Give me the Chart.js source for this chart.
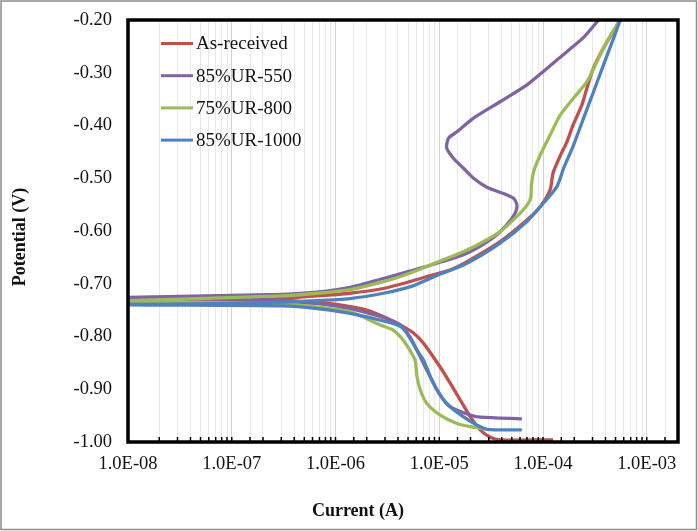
<!DOCTYPE html>
<html>
<head>
<meta charset="utf-8">
<script src="https://cdn.jsdelivr.net/npm/chart.js@4.4.1/dist/chart.umd.min.js"></script>
<style>
  html, body { margin: 0; padding: 0; background: #fff; }
  #wrap { width: 698px; height: 531px; position: relative; }
</style>
</head>
<body>
<div id="wrap"><canvas id="c" width="698" height="531"></canvas></div>
<script>
// ---- Data (current in A, potential in V) ----
const seriesNames = ["As-received", "85%UR-550", "75%UR-800", "85%UR-1000"];
const seriesColors = ["#C0504D", "#8064A2", "#9BBB59", "#4F81BD"];

const asReceivedI = [1.25e-4, 3.86e-5, 3.1e-5, 2.48e-5, 1.99e-5, 1.59e-5, 1.27e-5, 1.06e-5, 8.7e-6, 7.0e-6, 5.6e-6, 4.2e-6, 3.1e-6, 2.0e-6, 1.1e-6, 6.6e-7, 1.5e-7, 1e-8,
                     1e-8, 1.5e-7, 6.6e-7, 1.38e-6, 2.88e-6, 5.2e-6, 8.7e-6, 1.27e-5, 1.85e-5, 3.86e-5, 7.0e-5, 9.4e-5, 1.17e-4, 1.25e-4, 1.46e-4, 1.70e-4, 1.95e-4, 2.37e-4, 2.65e-4, 3.05e-4, 3.8e-4, 4.75e-4, 5.55e-4];
const asReceivedE = [-0.996, -0.996, -0.991, -0.977, -0.952, -0.920, -0.888, -0.863, -0.838, -0.812, -0.793, -0.778, -0.765, -0.750, -0.740, -0.737, -0.735, -0.734,
                     -0.733, -0.731, -0.723, -0.718, -0.709, -0.696, -0.683, -0.674, -0.658, -0.620, -0.579, -0.554, -0.522, -0.490, -0.458, -0.431, -0.399, -0.361, -0.329, -0.292, -0.254, -0.222, -0.200];

const ur550I = [6.25e-5, 2.48e-5, 1.85e-5, 1.27e-5, 1.10e-5, 9.5e-6, 8.2e-6, 7.05e-6, 6.1e-6, 4.88e-6, 4.2e-6, 3.36e-6, 2.7e-6, 1.38e-6, 6.6e-7, 3.1e-7, 1e-8,
                1e-8, 3.1e-7, 6.6e-7, 1.38e-6, 2.9e-6, 5.2e-6, 8.8e-6, 1.85e-5, 3.34e-5, 4.49e-5, 5.4e-5, 5.6e-5, 5.2e-5, 4.16e-5, 2.88e-5, 2.14e-5, 1.71e-5, 1.37e-5, 1.18e-5, 1.23e-5, 1.48e-5, 2.14e-5, 3.86e-5, 7.0e-5, 1.09e-4, 1.70e-4, 2.46e-4, 3.43e-4];
const ur550E = [-0.956, -0.953, -0.947, -0.933, -0.920, -0.901, -0.877, -0.851, -0.826, -0.794, -0.778, -0.769, -0.762, -0.747, -0.737, -0.731, -0.727,
                -0.726, -0.720, -0.716, -0.707, -0.690, -0.676, -0.663, -0.642, -0.612, -0.588, -0.566, -0.551, -0.538, -0.529, -0.517, -0.500, -0.481, -0.462, -0.443, -0.424, -0.412, -0.386, -0.355, -0.323, -0.292, -0.260, -0.233, -0.200];

const ur800I = [2.77e-5, 1.99e-5, 1.48e-5, 1.02e-5, 7.6e-6, 6.55e-6, 6.1e-6, 5.86e-6, 5.2e-6, 4.5e-6, 3.6e-6, 2.7e-6, 1.38e-6, 6.6e-7, 3.1e-7, 1e-8,
                1e-8, 3.1e-7, 6.6e-7, 1.38e-6, 2.9e-6, 5.2e-6, 8.8e-6, 1.85e-5, 3.86e-5, 6.03e-5, 7.24e-5, 7.64e-5, 7.74e-5, 8.1e-5, 9.4e-5, 1.17e-4, 1.47e-4, 1.97e-4, 2.65e-4, 3.31e-4, 4.13e-4, 5.16e-4, 5.55e-4];
const ur800E = [-0.975, -0.971, -0.965, -0.949, -0.927, -0.901, -0.876, -0.845, -0.826, -0.807, -0.788, -0.778, -0.753, -0.744, -0.738, -0.733,
                -0.732, -0.723, -0.718, -0.711, -0.696, -0.680, -0.662, -0.636, -0.601, -0.566, -0.547, -0.535, -0.513, -0.488, -0.456, -0.418, -0.380, -0.348, -0.317, -0.279, -0.241, -0.209, -0.200];

const ur1000I = [6.25e-5, 2.88e-5, 2.31e-5, 1.70e-5, 1.18e-5, 9.5e-6, 8.2e-6, 7.05e-6, 6.1e-6, 5.2e-6, 4.2e-6, 3.1e-6, 1.38e-6, 6.6e-7, 3.1e-7, 1e-8,
                 1e-8, 1.5e-7, 6.6e-7, 1.38e-6, 2.9e-6, 5.2e-6, 8.8e-6, 1.85e-5, 3.86e-5, 7.0e-5, 1.01e-4, 1.36e-4, 1.58e-4, 1.97e-4, 2.46e-4, 3.07e-4, 3.83e-4, 4.78e-4, 5.55e-4];
const ur1000E = [-0.977, -0.976, -0.968, -0.952, -0.927, -0.901, -0.876, -0.845, -0.826, -0.800, -0.781, -0.772, -0.756, -0.747, -0.742, -0.740,
                 -0.739, -0.737, -0.732, -0.728, -0.718, -0.706, -0.687, -0.661, -0.623, -0.582, -0.547, -0.516, -0.481, -0.437, -0.386, -0.336, -0.285, -0.235, -0.200];

const yTickValues = [-1.0, -0.9, -0.8, -0.7, -0.6, -0.5, -0.4, -0.3, -0.2];
const xAxisMin = 1e-8, xAxisMax = 2e-3;
const xTitle = "Current (A)";
const yTitle = "Potential (V)";

// ---- Build datasets ----
const allI = [asReceivedI, ur550I, ur800I, ur1000I];
const allE = [asReceivedE, ur550E, ur800E, ur1000E];
const datasets = seriesNames.map((name, k) => ({
  label: name,
  data: allI[k].map((v, i) => ({ x: v, y: allE[k][i] })),
  borderColor: seriesColors[k],
  backgroundColor: seriesColors[k],
  borderWidth: 3.3,
  showLine: true,
  pointRadius: 0,
  tension: 0.25,
  order: 3 - k
}));

const SERIF = "'Liberation Serif', 'Times New Roman', serif";

function isDecade(v) {
  const e = Math.round(Math.log10(v));
  return Math.abs(v / Math.pow(10, e) - 1) < 1e-6;
}
function fmtSci(v) {
  const e = Math.round(Math.log10(v));
  return "1.0E" + (e < 0 ? "-" : "+") + String(Math.abs(e)).padStart(2, "0");
}

const decorPlugin = {
  id: "decor",
  beforeDraw(chart) {
    const ctx = chart.ctx;
    ctx.save();
    ctx.fillStyle = "#fff";
    ctx.fillRect(0, 0, chart.width, chart.height);
    ctx.restore();
  },
  afterDraw(chart) {
    const ctx = chart.ctx;
    const a = chart.chartArea;
    const xs = chart.scales.x;
    ctx.save();
    // inner tick marks on the bottom axis
    ctx.strokeStyle = "#000";
    ctx.lineWidth = 1.5;
    xs.ticks.forEach(t => {
      const px = xs.getPixelForValue(t.value);
      if (px <= a.left + 1 || px >= a.right - 1) return;
      ctx.beginPath();
      ctx.moveTo(px, a.bottom);
      ctx.lineTo(px, a.bottom - 5);
      ctx.stroke();
    });
    // plot border
    ctx.lineWidth = 3.5;
    ctx.strokeRect(a.left, a.top, a.right - a.left, a.bottom - a.top);
    // legend inside the plot
    ctx.font = "19px " + SERIF;
    ctx.textBaseline = "middle";
    ctx.textAlign = "left";
    seriesNames.forEach((n, i) => {
      const y = 43.5 + i * 32.2;
      ctx.strokeStyle = seriesColors[i];
      ctx.lineWidth = 3;
      ctx.beginPath();
      ctx.moveTo(161, y);
      ctx.lineTo(193, y);
      ctx.stroke();
      ctx.fillStyle = "#111";
      ctx.fillText(n, 196, y + 1);
    });
    // axis titles
    ctx.font = "bold 18px " + SERIF;
    ctx.fillStyle = "#111";
    ctx.textAlign = "center";
    ctx.fillText(xTitle, 358, 511);
    ctx.translate(20, 237);
    ctx.rotate(-Math.PI / 2);
    ctx.fillText(yTitle, 0, 0);
    ctx.restore();
    // outer frame
    ctx.save();
    ctx.strokeStyle = "#8c8c8c";
    ctx.lineWidth = 1.5;
    ctx.strokeRect(1, 1, 695.5, 528.5);
    ctx.restore();
  }
};

new Chart(document.getElementById("c"), {
  type: "scatter",
  data: { datasets },
  options: {
    responsive: false,
    animation: false,
    devicePixelRatio: 1,
    layout: { padding: { left: 0, right: 20, top: 20, bottom: 0 } },
    plugins: { legend: { display: false }, tooltip: { enabled: false }, title: { display: false } },
    scales: {
      x: {
        type: "logarithmic",
        min: xAxisMin,
        max: xAxisMax,
        border: { display: false },
        grid: {
          drawTicks: false,
          color: ctx => (ctx.tick && isDecade(ctx.tick.value)) ? "#d2d2d2" : "#e8e8e8",
          lineWidth: 1
        },
        ticks: {
          autoSkip: false,
          maxRotation: 0,
          padding: 11,
          color: "#111",
          font: { family: SERIF, size: 18.5 },
          callback: v => isDecade(v) ? fmtSci(v) : ""
        },
        afterFit: s => { s.height = 89; s.paddingLeft = 0; s.paddingRight = 0; }
      },
      y: {
        min: -1.0,
        max: -0.2,
        border: { display: false },
        grid: { display: false, drawTicks: false },
        afterBuildTicks: s => { s.ticks = yTickValues.map(v => ({ value: v })); },
        ticks: {
          padding: 16,
          color: "#111",
          font: { family: SERIF, size: 18.5 },
          callback: v => Number(v).toFixed(2)
        },
        afterFit: s => { s.width = 128; s.paddingTop = 0; s.paddingBottom = 0; }
      }
    }
  },
  plugins: [decorPlugin]
});
</script>
</body>
</html>
